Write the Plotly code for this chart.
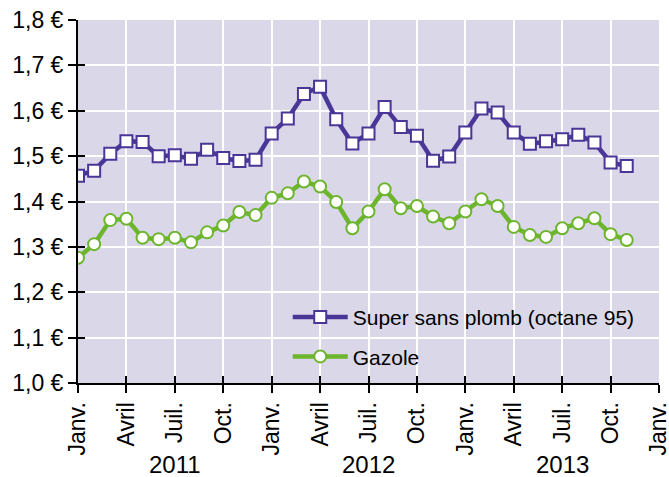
import plotly.graph_objects as go

months = ["Janv.", "Févr.", "Mars", "Avril", "Mai", "Juin", "Juil.", "Août", "Sept.", "Oct.", "Nov.", "Déc."]
years = ["2011", "2012", "2013"]
month_index = list(range(35))  # Jan 2011 .. Nov 2013

super_95 = [1.457, 1.468, 1.505, 1.533, 1.531, 1.500, 1.502, 1.494, 1.514, 1.496, 1.489, 1.492,
            1.550, 1.583, 1.637, 1.653, 1.581, 1.528, 1.550, 1.608, 1.564, 1.545, 1.490, 1.499,
            1.552, 1.605, 1.596, 1.552, 1.527, 1.533, 1.537, 1.547, 1.530, 1.486, 1.478]
gazole = [1.276, 1.306, 1.359, 1.362, 1.320, 1.317, 1.320, 1.310, 1.332, 1.347, 1.377, 1.370,
          1.408, 1.418, 1.444, 1.433, 1.399, 1.341, 1.378, 1.427, 1.385, 1.390, 1.367, 1.352,
          1.378, 1.405, 1.390, 1.344, 1.326, 1.322, 1.341, 1.352, 1.363, 1.328, 1.315]

y_ticks = [1.0, 1.1, 1.2, 1.3, 1.4, 1.5, 1.6, 1.7, 1.8]
y_ticktext = [f"{v:.1f}".replace(".", ",") + " €" for v in y_ticks]
x_tickvals = list(range(0, 37, 3))
x_ticktext = [["Janv.", "Avril", "Juil.", "Oct."][(i // 3) % 4] for i in x_tickvals]

PURPLE = "#4a3696"
GREEN = "#6cb52d"
FONT = "Liberation Sans"

fig = go.Figure()
fig.add_trace(go.Scatter(
    x=month_index, y=super_95, mode="lines+markers", name="Super sans plomb (octane 95)",
    line=dict(color=PURPLE, width=4.5),
    marker=dict(symbol="square", size=12, color="white", line=dict(color=PURPLE, width=2)),
    legendgroup="a",
))
fig.add_trace(go.Scatter(
    x=month_index, y=gazole, mode="lines+markers", name="Gazole",
    line=dict(color=GREEN, width=4.5),
    marker=dict(symbol="circle", size=12, color="white", line=dict(color=GREEN, width=2)),
    legendgroup="b",
))
# invisible trace for inner-tick overlay axes
fig.add_trace(go.Scatter(x=[0], y=[1.0], xaxis="x2", yaxis="y2", mode="markers",
                         marker=dict(opacity=0), showlegend=False, hoverinfo="skip"))

for i, yr in enumerate(years):
    fig.add_annotation(x=6 + 12 * i, y=0, xref="x", yref="paper", yshift=-81,
                       text=yr, showarrow=False, font=dict(family=FONT, size=24, color="black"),
                       yanchor="middle")

axis_common = dict(linecolor="black", linewidth=2, tickwidth=2, tickcolor="black", ticklen=8,
                   automargin=False)

fig.update_layout(
    width=669, height=477,
    margin=dict(l=78, r=10, t=20, b=94),
    paper_bgcolor="white", plot_bgcolor="#dad7e9",
    font=dict(family=FONT, size=20, color="black"),
    xaxis=dict(range=[0, 36], tickvals=x_tickvals, ticktext=x_ticktext, tickangle=-90,
               ticks="outside", showgrid=True, gridcolor="white", gridwidth=2, zeroline=False,
               showline=True, tickfont=dict(size=23), ticklabeloverflow="allow", **axis_common),
    yaxis=dict(range=[1.0, 1.8], tickvals=y_ticks, ticktext=y_ticktext, ticks="outside",
               showgrid=True, gridcolor="white", gridwidth=2, zeroline=False, showline=True,
               tickfont=dict(size=23), ticklabeloverflow="allow", **axis_common),
    xaxis2=dict(range=[0, 36], tickvals=x_tickvals, overlaying="x", anchor="y2", side="bottom",
                ticks="inside", showticklabels=False, showgrid=False, zeroline=False,
                showline=False, tickwidth=2, tickcolor="black", ticklen=7, automargin=False),
    yaxis2=dict(range=[1.0, 1.8], tickvals=y_ticks, overlaying="y", anchor="x2", side="left",
                ticks="inside", showticklabels=False, showgrid=False, zeroline=False,
                showline=False, tickwidth=2, tickcolor="black", ticklen=7, automargin=False),
    legend=dict(x=0.361, y=0.237, xanchor="left", yanchor="top", bgcolor="rgba(0,0,0,0)",
                font=dict(size=21), traceorder="grouped", tracegroupgap=9, itemwidth=55),
    showlegend=True,
)

fig.write_html("out.html", config={"displayModeBar": False},
               post_script="document.body.style.margin='0';")
